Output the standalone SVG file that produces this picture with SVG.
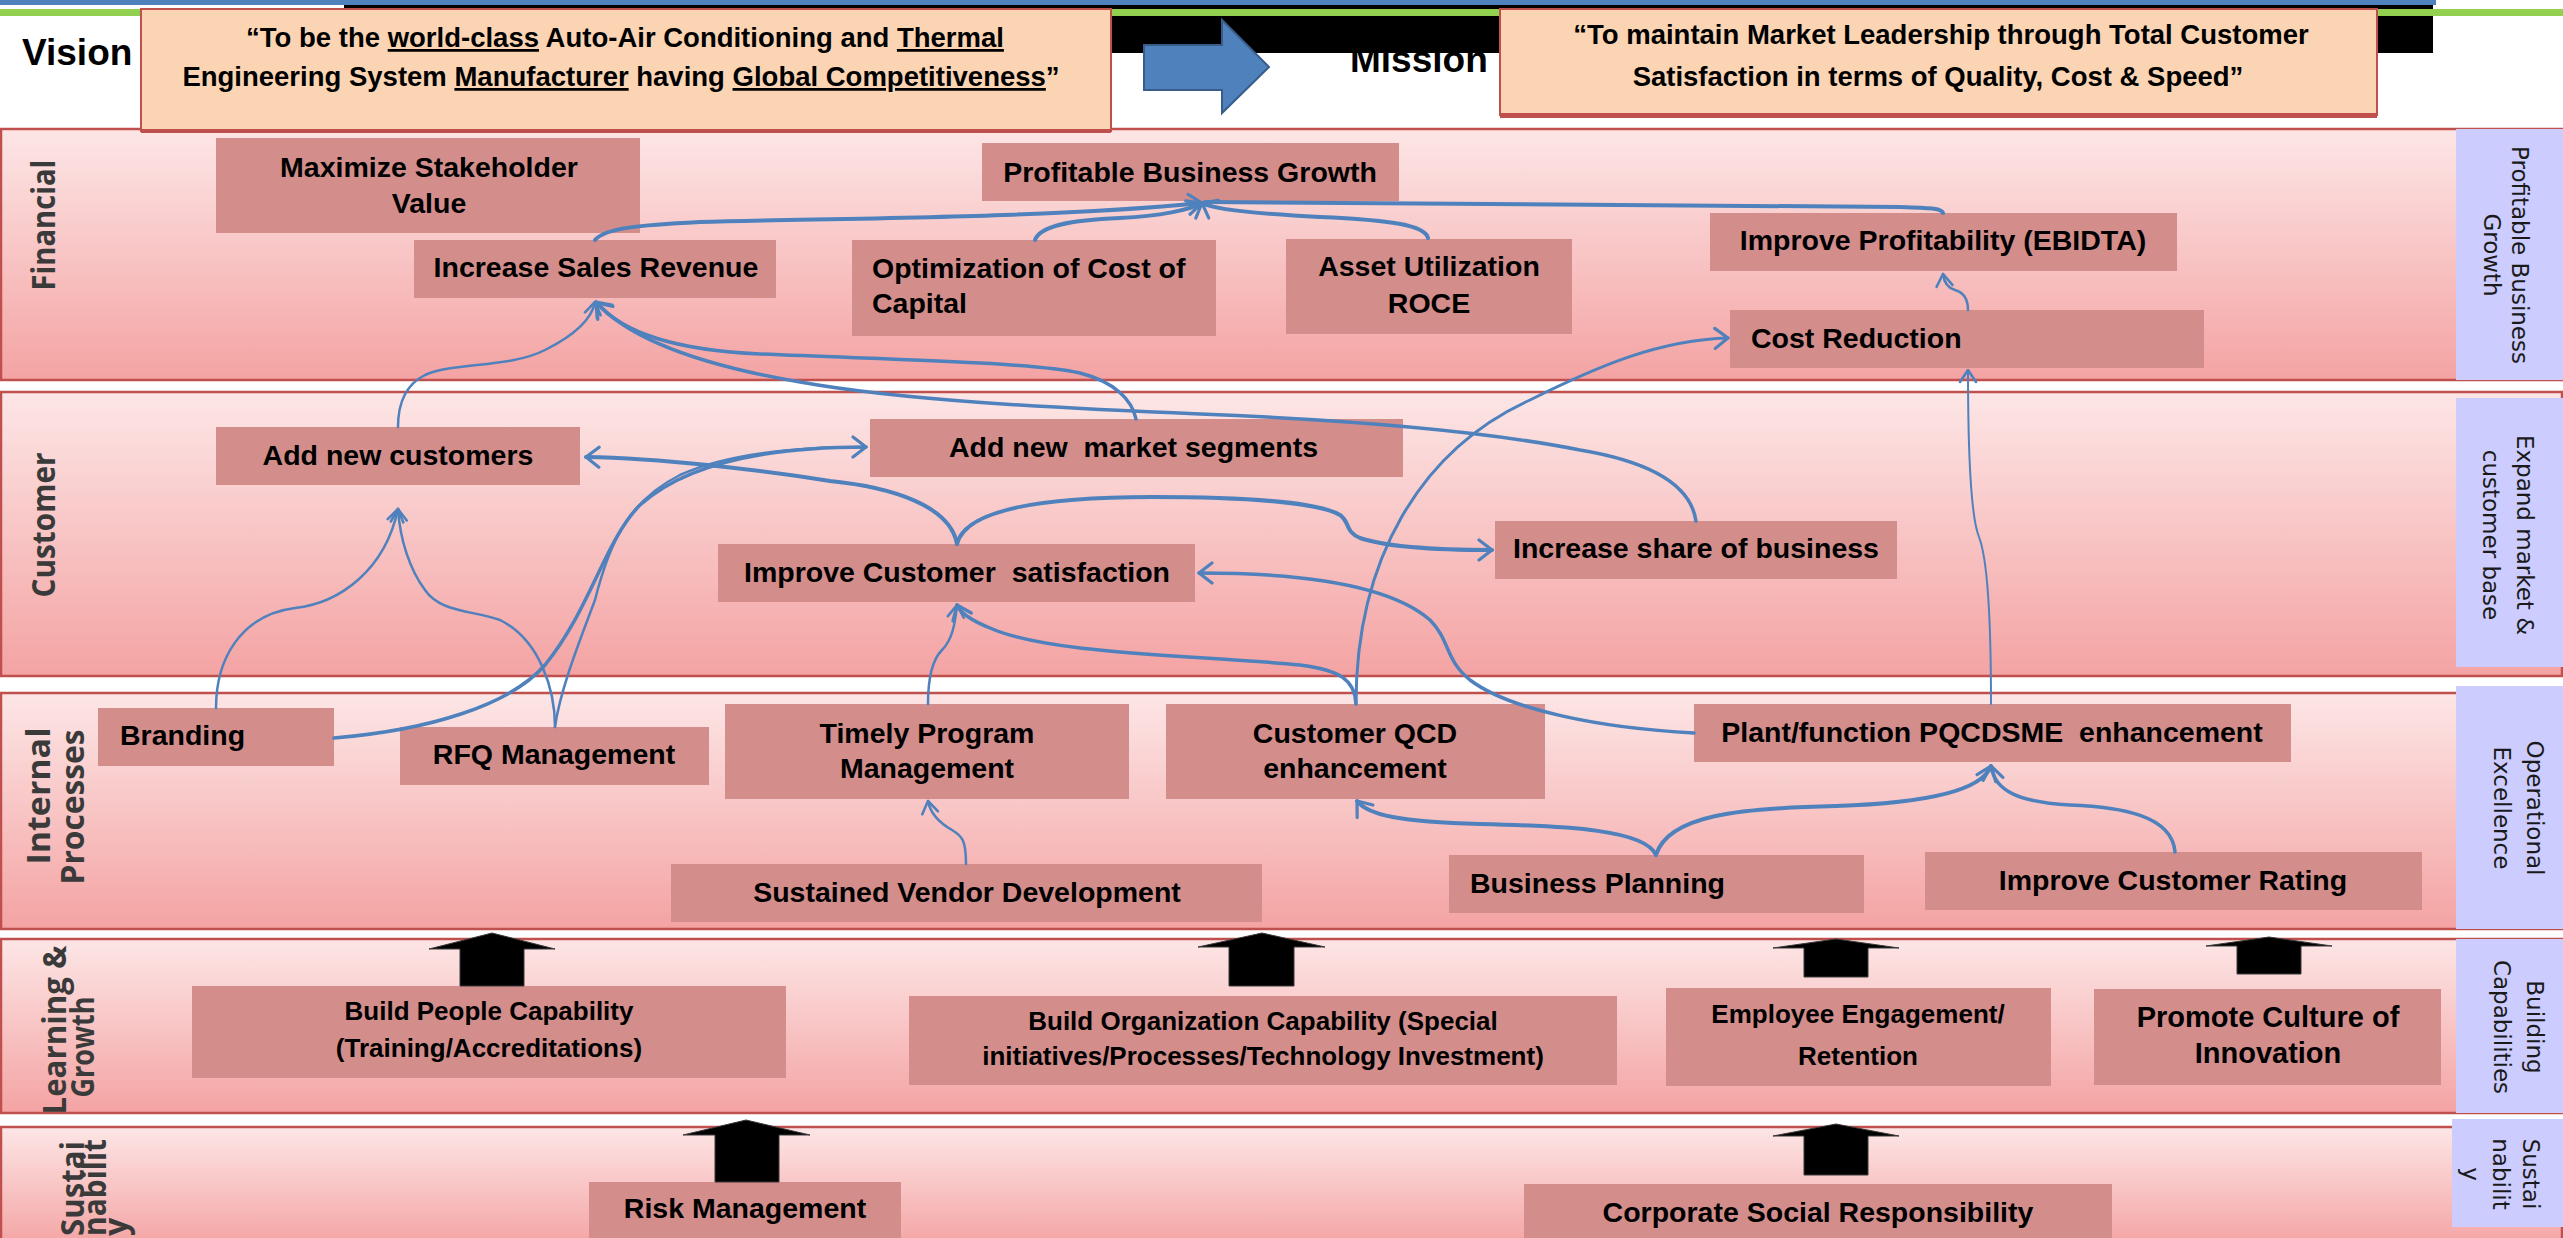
<svg xmlns="http://www.w3.org/2000/svg" width="2563" height="1238" viewBox="0 0 2563 1238">
  <defs>
    <linearGradient id="laneFill" x1="0" y1="0" x2="0" y2="1">
      <stop offset="0" stop-color="#FDE6E6"/>
      <stop offset="1" stop-color="#F4A3A3"/>
    </linearGradient>
    <marker id="head" markerUnits="userSpaceOnUse" viewBox="0 0 18 24" markerWidth="18" markerHeight="24" refX="15" refY="12" orient="auto">
      <path d="M2,2 L15,12 L2,22" fill="none" stroke="#4F81BD" stroke-width="3.2" stroke-linejoin="round" stroke-linecap="round"/>
    </marker>
    <marker id="headS" markerUnits="userSpaceOnUse" viewBox="0 0 16 20" markerWidth="16" markerHeight="20" refX="14" refY="10" orient="auto">
      <path d="M2,2 L14,10 L2,18" fill="none" stroke="#4F81BD" stroke-width="2.6" stroke-linejoin="round" stroke-linecap="round"/>
    </marker>
  </defs>
  <style>
    .lane{fill:url(#laneFill);stroke:#C0504D;stroke-width:2.5}
    .tag{fill:#CCCCFF}
    .tagtxt{font-family:"DejaVu Sans",Verdana,sans-serif;font-size:23px;fill:#1a1a1a;text-anchor:middle}
    .lanetxt{font-family:"Open Sans","DejaVu Sans",sans-serif;font-weight:bold;font-size:32px;fill:#3a3a3a;text-anchor:middle}
    .node rect{fill:#D38D8B}
    .node text{font-family:"Liberation Sans",Arial,sans-serif;font-weight:bold;font-size:28.5px;fill:#000}
    .node .sm{font-size:26px}
    .node .md{font-size:29px}
    .c{text-anchor:middle}
    .quote{fill:#FBD4B4;stroke:#C0504D;stroke-width:2}
    .qtxt{font-family:"Liberation Sans",Arial,sans-serif;font-weight:bold;font-size:27.5px;fill:#000;text-anchor:middle}
    .title{font-family:"Liberation Sans",Arial,sans-serif;font-weight:bold;font-size:37px;fill:#000}
    .u{text-decoration:underline}
    .conn path{fill:none;stroke:#4F81BD;stroke-linecap:round}
    .w4{stroke-width:4}
    .w35{stroke-width:3.5}
    .w3{stroke-width:3}
    .w25{stroke-width:2.5}
    .w2{stroke-width:2}
    .blk{fill:#000;stroke:#3a3a3a;stroke-width:1}
  </style>

  <rect x="0" y="0" width="2563" height="1238" fill="#FFFFFF"/>

  <!-- header strip -->
  <text class="title" x="1350" y="72">Mission</text>
  <rect x="0" y="0" width="2436" height="5" fill="#4F81BD"/>
  <rect x="344" y="5" width="2089" height="48" fill="#000000"/>
  <rect x="0" y="9" width="2563" height="7" fill="#92D050"/>
  <text class="title" x="22" y="65">Vision</text>

  <!-- swim lanes -->
  <g id="lanes">
    <rect class="lane" x="1" y="129" width="2561" height="251"/>
    <rect class="lane" x="1" y="392" width="2561" height="284"/>
    <rect class="lane" x="1" y="693" width="2561" height="236"/>
    <rect class="lane" x="1" y="939" width="2561" height="174"/>
    <rect class="lane" x="1" y="1127" width="2561" height="120"/>
  </g>

  <!-- vision / mission statements -->
  <g id="vision">
    <rect class="quote" x="141" y="9" width="970" height="122"/>
    <rect x="141" y="129" width="970" height="4" fill="#C0504D"/>
    <text class="qtxt" x="625" y="47">“To be the <tspan class="u">world-class</tspan> Auto-Air Conditioning and <tspan class="u">Thermal</tspan></text>
    <text class="qtxt" x="621" y="86">Engineering System <tspan class="u">Manufacturer</tspan> having <tspan class="u">Global Competitiveness</tspan>”</text>
  </g>
  <g id="vision-arrow">
    <polygon points="1144,45 1222,45 1222,20 1269,67 1222,113 1222,90 1144,90" fill="#4F81BD" stroke="#385D8A" stroke-width="2"/>
  </g>
  <g id="mission">
    <rect class="quote" x="1500" y="9" width="877" height="106"/>
    <rect x="1500" y="113" width="877" height="5" fill="#C0504D"/>
    <text class="qtxt" x="1941" y="44">“To maintain Market Leadership through Total Customer</text>
    <text class="qtxt" x="1938" y="86">Satisfaction in terms of Quality, Cost &amp; Speed”</text>
  </g>

  <!-- perspective names, left -->
  <g id="lane-names">
    <text class="lanetxt" transform="translate(55,225) rotate(-90)" textLength="131" lengthAdjust="spacingAndGlyphs">Financial</text>
    <text class="lanetxt" transform="translate(55,525) rotate(-90)" textLength="145" lengthAdjust="spacingAndGlyphs">Customer</text>
    <text class="lanetxt" transform="translate(50,796) rotate(-90)" textLength="137" lengthAdjust="spacingAndGlyphs">Internal</text>
    <text class="lanetxt" transform="translate(84,807) rotate(-90)" textLength="155" lengthAdjust="spacingAndGlyphs">Processes</text>
    <text class="lanetxt" transform="translate(66,1030) rotate(-90)" textLength="169" lengthAdjust="spacingAndGlyphs">Learning &amp;</text>
    <text class="lanetxt" transform="translate(94,1047) rotate(-90)" textLength="101" lengthAdjust="spacingAndGlyphs">Growth</text>
    <text class="lanetxt" style="text-anchor:start" transform="translate(84,1236) rotate(-90)" textLength="95" lengthAdjust="spacingAndGlyphs">Sustai</text>
    <text class="lanetxt" style="text-anchor:start" transform="translate(106,1236) rotate(-90)" textLength="97" lengthAdjust="spacingAndGlyphs">nabilit</text>
    <text class="lanetxt" style="text-anchor:start" transform="translate(127,1236) rotate(-90)">y</text>
  </g>

  <!-- theme tags, right -->
  <g id="themes">
    <rect class="tag" x="2456" y="129" width="107" height="251"/>
    <text class="tagtxt" transform="translate(2512,255) rotate(90)">Profitable Business</text>
    <text class="tagtxt" transform="translate(2484,255) rotate(90)">Growth</text>
    <rect class="tag" x="2456" y="398" width="107" height="269"/>
    <text class="tagtxt" transform="translate(2517,535) rotate(90)">Expand market &amp;</text>
    <text class="tagtxt" transform="translate(2483,535) rotate(90)">customer base</text>
    <rect class="tag" x="2456" y="686" width="107" height="243"/>
    <text class="tagtxt" transform="translate(2527,808) rotate(90)">Operational</text>
    <text class="tagtxt" transform="translate(2494,808) rotate(90)">Excellence</text>
    <rect class="tag" x="2456" y="939" width="107" height="174"/>
    <text class="tagtxt" transform="translate(2527,1027) rotate(90)">Building</text>
    <text class="tagtxt" transform="translate(2494,1027) rotate(90)">Capabilities</text>
    <rect class="tag" x="2452" y="1119" width="111" height="108"/>
    <text class="tagtxt" transform="translate(2523,1174) rotate(90)">Sustai</text>
    <text class="tagtxt" transform="translate(2493,1174) rotate(90)">nabilit</text>
    <text class="tagtxt" transform="translate(2463,1174) rotate(90)">y</text>
  </g>

  <!-- Financial -->
  <g id="maximize-stakeholder-value" class="node">
    <rect x="216" y="138" width="424" height="95"/>
    <text class="c" x="429" y="177">Maximize Stakeholder</text>
    <text class="c" x="429" y="213">Value</text>
  </g>
  <g id="profitable-business-growth" class="node">
    <rect x="982" y="143" width="417" height="58"/>
    <text class="c" x="1190" y="182">Profitable Business Growth</text>
  </g>
  <g id="increase-sales-revenue" class="node">
    <rect x="414" y="240" width="362" height="58"/>
    <text class="c" x="596" y="277">Increase Sales Revenue</text>
  </g>
  <g id="optimization-cost-capital" class="node">
    <rect x="852" y="240" width="364" height="96"/>
    <text x="872" y="278">Optimization of Cost of</text>
    <text x="872" y="313">Capital</text>
  </g>
  <g id="asset-utilization" class="node">
    <rect x="1286" y="239" width="286" height="95"/>
    <text class="c" x="1429" y="276">Asset Utilization</text>
    <text class="c" x="1429" y="313">ROCE</text>
  </g>
  <g id="improve-profitability" class="node">
    <rect x="1710" y="213" width="467" height="58"/>
    <text class="c" x="1943" y="250">Improve Profitability (EBIDTA)</text>
  </g>
  <g id="cost-reduction" class="node">
    <rect x="1730" y="310" width="474" height="58"/>
    <text x="1751" y="348">Cost Reduction</text>
  </g>

  <!-- Customer -->
  <g id="add-new-customers" class="node">
    <rect x="216" y="427" width="364" height="58"/>
    <text class="c" x="398" y="465">Add new customers</text>
  </g>
  <g id="add-new-market-segments" class="node">
    <rect x="870" y="419" width="533" height="58"/>
    <text x="949" y="457" xml:space="preserve">Add new  market segments</text>
  </g>
  <g id="improve-customer-satisfaction" class="node">
    <rect x="718" y="544" width="477" height="58"/>
    <text class="c" x="957" y="582" xml:space="preserve">Improve Customer  satisfaction</text>
  </g>
  <g id="increase-share-of-business" class="node">
    <rect x="1495" y="521" width="402" height="58"/>
    <text class="c" x="1696" y="558">Increase share of business</text>
  </g>

  <!-- Internal Processes -->
  <g id="branding" class="node">
    <rect x="98" y="708" width="236" height="58"/>
    <text x="120" y="745">Branding</text>
  </g>
  <g id="rfq-management" class="node">
    <rect x="400" y="727" width="309" height="58"/>
    <text class="c" x="554" y="764">RFQ Management</text>
  </g>
  <g id="timely-program-management" class="node">
    <rect x="725" y="704" width="404" height="95"/>
    <text class="c" x="927" y="743">Timely Program</text>
    <text class="c" x="927" y="778">Management</text>
  </g>
  <g id="customer-qcd" class="node">
    <rect x="1166" y="704" width="379" height="95"/>
    <text class="c" x="1355" y="743">Customer QCD</text>
    <text class="c" x="1355" y="778">enhancement</text>
  </g>
  <g id="plant-pqcdsme" class="node">
    <rect x="1694" y="704" width="597" height="58"/>
    <text class="c" x="1992" y="742" xml:space="preserve">Plant/function PQCDSME  enhancement</text>
  </g>
  <g id="sustained-vendor-development" class="node">
    <rect x="671" y="864" width="591" height="58"/>
    <text class="c" x="967" y="902">Sustained Vendor Development</text>
  </g>
  <g id="business-planning" class="node">
    <rect x="1449" y="855" width="415" height="58"/>
    <text x="1470" y="893">Business Planning</text>
  </g>
  <g id="improve-customer-rating" class="node">
    <rect x="1925" y="852" width="497" height="58"/>
    <text class="c" x="2173" y="890">Improve Customer Rating</text>
  </g>

  <!-- Learning & Growth -->
  <g id="build-people-capability" class="node">
    <rect x="192" y="986" width="594" height="92"/>
    <text class="c sm" x="489" y="1020">Build People Capability</text>
    <text class="c sm" x="489" y="1057">(Training/Accreditations)</text>
  </g>
  <g id="build-organization-capability" class="node">
    <rect x="909" y="996" width="708" height="89"/>
    <text class="c sm" x="1263" y="1030">Build Organization Capability (Special</text>
    <text class="c sm" x="1263" y="1065">initiatives/Processes/Technology Investment)</text>
  </g>
  <g id="employee-engagement" class="node">
    <rect x="1666" y="988" width="385" height="98"/>
    <text class="c sm" x="1858" y="1023">Employee Engagement/</text>
    <text class="c sm" x="1858" y="1065">Retention</text>
  </g>
  <g id="promote-innovation" class="node">
    <rect x="2094" y="989" width="347" height="96"/>
    <text class="c md" x="2268" y="1027">Promote Culture of</text>
    <text class="c md" x="2268" y="1063">Innovation</text>
  </g>

  <!-- Sustainability -->
  <g id="risk-management" class="node">
    <rect x="589" y="1182" width="312" height="60"/>
    <text class="c" x="745" y="1218">Risk Management</text>
  </g>
  <g id="corporate-social-responsibility" class="node">
    <rect x="1524" y="1184" width="588" height="60"/>
    <text class="c" x="1818" y="1222">Corporate Social Responsibility</text>
  </g>

  <!-- block arrows between the lower perspectives -->
  <g id="block-arrows">
    <polygon class="blk" points="492,933 555,949 524,949 524,986 460,986 460,949 429,949"/>
    <polygon class="blk" points="1262,933 1325,947 1294,947 1294,986 1229,986 1229,947 1198,947"/>
    <polygon class="blk" points="1836,939 1899,948 1868,948 1868,977 1804,977 1804,948 1773,948"/>
    <polygon class="blk" points="2269,937 2332,946 2301,946 2301,974 2237,974 2237,946 2206,946"/>
    <polygon class="blk" points="746,1120 810,1135 779,1135 779,1182 715,1182 715,1135 683,1135"/>
    <polygon class="blk" points="1836,1124 1899,1136 1868,1136 1868,1175 1804,1175 1804,1136 1773,1136"/>
  </g>

  <!-- cause and effect links -->
  <g id="connectors" class="conn">
    <path class="w4" marker-end="url(#head)" d="M595,240 C605,228 640,225 700,222 C850,218 1050,218 1202,203"/>
    <path class="w4" marker-end="url(#head)" d="M1035,240 C1040,226 1070,220 1120,218 C1160,216 1190,210 1202,203"/>
    <path class="w4" marker-end="url(#head)" d="M1428,238 C1425,225 1390,220 1320,217 C1260,214 1215,210 1202,203"/>
    <path class="w4" d="M1943,213 C1942,208 1930,208 1900,207 C1600,205 1350,205 1205,202"/>
    <path class="w25" marker-end="url(#headS)" d="M1968,310 C1968,298 1962,292 1955,290 C1948,288 1944,282 1943,274"/>
    <path class="w25" marker-end="url(#headS)" d="M398,427 C398,405 405,385 425,375 C455,362 510,368 545,350 C575,335 592,318 595,302"/>
    <path class="w35" marker-end="url(#head)" d="M1136,419 C1132,400 1115,382 1080,373 C1030,362 900,360 760,354 C670,350 620,330 597,303"/>
    <path class="w35" marker-end="url(#head)" d="M1696,521 C1690,480 1640,460 1580,450 C1480,430 1350,420 1200,414 C1050,408 900,400 800,382 C700,365 630,340 596,302"/>
    <path class="w4" marker-end="url(#head)" d="M957,544 C950,505 890,487 830,481 C760,470 660,458 586,457"/>
    <path class="w4" marker-end="url(#head)" d="M957,544 C965,510 1040,497 1152,497 C1250,497 1320,503 1340,515 C1350,522 1345,532 1360,538 C1390,548 1450,550 1492,550"/>
    <path class="w35" marker-end="url(#head)" d="M334,738 C430,730 510,705 545,665 C590,610 605,540 640,505 C690,460 780,447 866,447"/>
    <path class="w25" d="M555,727 C560,690 580,640 595,600 C610,540 630,500 680,475 C730,452 800,447 864,447"/>
    <path class="w25" marker-end="url(#headS)" d="M555,727 C555,690 540,640 500,620 C470,610 440,612 425,590 C410,570 400,540 398,509"/>
    <path class="w25" marker-end="url(#headS)" d="M216,708 C216,660 240,615 295,608 C340,603 385,570 398,509"/>
    <path class="w25" marker-end="url(#headS)" d="M928,704 C928,680 932,660 942,650 C952,640 955,625 957,605"/>
    <path class="w35" marker-end="url(#head)" d="M1356,704 C1355,680 1340,670 1300,665 C1200,655 1050,655 990,628 C970,620 960,612 957,605"/>
    <path class="w3" marker-end="url(#head)" d="M1356,704 C1356,560 1420,450 1530,400 C1600,365 1660,340 1728,338"/>
    <path class="w35" marker-end="url(#head)" d="M1694,733 C1600,728 1510,710 1470,680 C1445,660 1450,640 1430,620 C1390,585 1300,573 1199,573"/>
    <path class="w2" marker-end="url(#headS)" d="M1991,704 C1991,620 1988,560 1979,537 C1970,515 1968,440 1968,370"/>
    <path class="w4" marker-end="url(#head)" d="M1656,855 C1645,830 1570,826 1480,824 C1400,822 1368,815 1357,801"/>
    <path class="w4" marker-end="url(#head)" d="M1656,855 C1668,815 1740,808 1836,806 C1930,803 1982,790 1991,766"/>
    <path class="w35" marker-end="url(#head)" d="M2175,852 C2172,815 2120,807 2070,805 C2020,802 1995,792 1991,766"/>
    <path class="w25" marker-end="url(#headS)" d="M966,864 C966,840 962,836 952,830 C938,822 930,812 928,801"/>
  </g>
</svg>
